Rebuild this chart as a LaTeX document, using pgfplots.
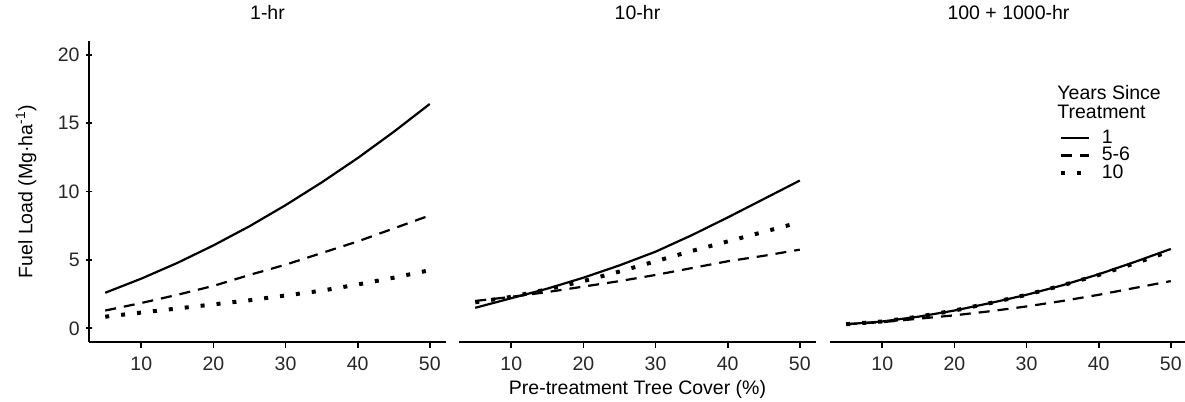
\documentclass[border=0pt]{standalone}
\usepackage{fontspec}
\setmainfont{Liberation Sans}
\usepackage{pgfplots}
\pgfplotsset{compat=1.18}
\begin{document}
\begin{tikzpicture}
\useasboundingbox (-44.5pt,-30pt) rectangle (548pt,171pt);
\pgfplotsset{
  panel/.style={
    scale only axis, width=178.5pt, height=150.5pt,
    xmin=2.75, xmax=52.25, ymin=-1, ymax=21,
    font=\fontsize{9.75}{11}\selectfont,
    axis x line=bottom,
    axis line style={-, line width=0.9pt, black},
    tick align=outside, major tick length=3pt,
    tick style={line width=0.9pt, black},
    xtick={10,20,30,40,50},
    /pgf/number format/assume math mode=true,
    xticklabel style={anchor=north, inner sep=0pt, yshift=-4pt, text=black!85},
    yticklabel style={anchor=east, inner sep=0pt, xshift=-3pt, text=black!85},
    title style={at={(0.5,1)}, anchor=base, yshift=5pt, inner sep=0pt},
    legend image code/.code={\draw[##1] (0pt,0pt) -- (14pt,0pt);},
  },
  s1/.style={black, line width=1.1pt},
  s2/.style={black, line width=1.1pt, dash pattern=on 5.5pt off 4pt},
  s3/.style={black, line width=2pt, dash pattern=on 2pt off 6pt},
}
% ---------- Panel 1: 1-hr
\begin{axis}[panel, at={(0pt,0pt)}, axis y line=left, y axis line style={-},
  ytick={0,5,10,15,20},
  title={1-hr},
  ylabel={Fuel Load (Mg·ha\textsuperscript{-1})},
  ylabel style={at={(-0.1765,0.5)}, anchor=center, inner sep=0pt}]
\addplot[s1] coordinates {(5,2.6) (10,3.63) (15,4.78) (20,6.06) (25,7.46) (30,9.0) (35,10.66) (40,12.44) (45,14.36) (50,16.4)};
\addplot[s2] coordinates {(5,1.3) (10,1.85) (15,2.45) (20,3.1) (25,3.9) (30,4.65) (35,5.5) (40,6.35) (45,7.3) (50,8.25)};
\addplot[s3] coordinates {(5,0.85) (10,1.15) (15,1.45) (20,1.75) (25,2.05) (30,2.4) (35,2.75) (40,3.2) (45,3.7) (50,4.25)};
\end{axis}
% ---------- Panel 2: 10-hr
\begin{axis}[panel, at={(185pt,0pt)}, hide y axis,
  title={10-hr},
  xlabel={Pre-treatment Tree Cover (\%)},
  xlabel style={at={(0.5,0)}, anchor=base, yshift=-26.5pt, inner sep=0pt}]
\addplot[s1] coordinates {(5,1.5) (10,2.2) (15,2.9) (20,3.7) (25,4.6) (30,5.6) (35,6.8) (40,8.1) (45,9.45) (50,10.8)};
\addplot[s2] coordinates {(5,2.0) (10,2.3) (15,2.65) (20,3.05) (25,3.45) (30,3.9) (35,4.4) (40,4.9) (45,5.3) (50,5.75)};
\addplot[s3] coordinates {(5,1.9) (10,2.3) (15,2.85) (20,3.45) (25,4.15) (30,4.9) (35,5.65) (40,6.35) (45,7.05) (50,7.75)};
\end{axis}
% ---------- Panel 3: 100 + 1000-hr
\begin{axis}[panel, at={(370.5pt,0pt)}, hide y axis,
  title={100 + 1000-hr},
  legend style={at={(0.64,0.713)}, anchor=north west, draw=none, fill=none,
    font=\fontsize{9.75}{11}\selectfont, row sep=-1.5pt, inner sep=0pt,
    nodes={inner sep=1pt},
    /tikz/every odd column/.append style={column sep=4.5pt}},
  legend cell align=left]
\addplot[s1] coordinates {(5,0.3) (10,0.5) (15,0.85) (20,1.3) (25,1.85) (30,2.45) (35,3.15) (40,3.95) (45,4.85) (50,5.8)};
\addlegendentry{1}
\addplot[s2] coordinates {(5,0.3) (10,0.45) (15,0.7) (20,0.95) (25,1.25) (30,1.6) (35,2.0) (40,2.45) (45,2.95) (50,3.45)};
\addlegendentry{5-6}
\addplot[s3] coordinates {(5,0.3) (10,0.5) (15,0.85) (20,1.3) (25,1.85) (30,2.45) (35,3.15) (40,3.9) (45,4.75) (50,5.65)};
\addlegendentry{10}
\node[anchor=base west, inner sep=0pt] at (rel axis cs:0.636,0.804) {Years Since};
\node[anchor=base west, inner sep=0pt] at (rel axis cs:0.636,0.744) {Treatment};
\end{axis}
\end{tikzpicture}
\end{document}
